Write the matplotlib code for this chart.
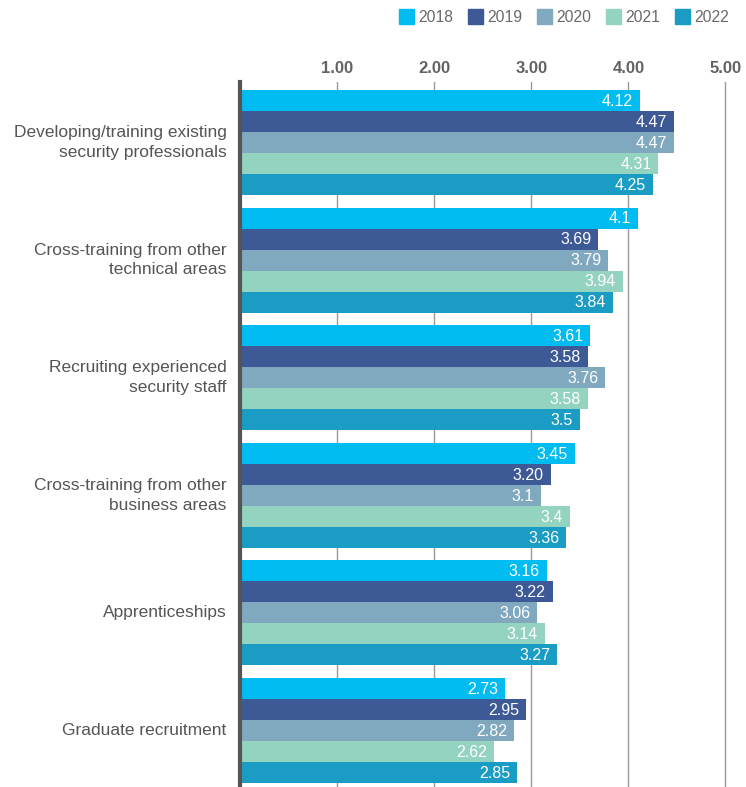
import matplotlib
matplotlib.use("Agg")
import matplotlib.pyplot as plt
from matplotlib.patches import Rectangle

plt.rcParams['font.family'] = ['Liberation Sans', 'DejaVu Sans']

categories = [
    "Developing/training existing\nsecurity professionals",
    "Cross-training from other\ntechnical areas",
    "Recruiting experienced\nsecurity staff",
    "Cross-training from other\nbusiness areas",
    "Apprenticeships",
    "Graduate recruitment",
]
years = ["2018", "2019", "2020", "2021", "2022"]
values = {
    "2018": [4.12, 4.10, 3.61, 3.45, 3.16, 2.73],
    "2019": [4.47, 3.69, 3.58, 3.20, 3.22, 2.95],
    "2020": [4.47, 3.79, 3.76, 3.10, 3.06, 2.82],
    "2021": [4.31, 3.94, 3.58, 3.40, 3.14, 2.62],
    "2022": [4.25, 3.84, 3.50, 3.36, 3.27, 2.85],
}
value_labels = {
    "2018": ["4.12", "4.1", "3.61", "3.45", "3.16", "2.73"],
    "2019": ["4.47", "3.69", "3.58", "3.20", "3.22", "2.95"],
    "2020": ["4.47", "3.79", "3.76", "3.1", "3.06", "2.82"],
    "2021": ["4.31", "3.94", "3.58", "3.4", "3.14", "2.62"],
    "2022": ["4.25", "3.84", "3.5", "3.36", "3.27", "2.85"],
}
x_ticks = [1, 2, 3, 4, 5]
x_ticklabels = ["1.00", "2.00", "3.00", "4.00", "5.00"]
colors = ["#00BCF1", "#3D5A96", "#80A9C0", "#94D3BF", "#1A9CC4"]

W, H = 746, 787
fig = plt.figure(figsize=(W / 100, H / 100), dpi=100)
ax = fig.add_axes([240 / W, 0, 500 / W, 705 / H])

group_pitch = 5.6
n_years = len(years)
for j, (yr, col) in enumerate(zip(years, colors)):
    ys = [g * group_pitch + j for g in range(len(categories))]
    ax.barh(ys, values[yr], height=1.0, color=col, zorder=2)
    for y, v, lab in zip(ys, values[yr], value_labels[yr]):
        ax.text(v - 0.07, y + 0.04, lab, ha="right", va="center",
                color="white", fontsize=11.5, zorder=3)

ax.set_xlim(0, 5.15)
last = (len(categories) - 1) * group_pitch + n_years - 1
ax.set_ylim(last + 0.5 + 4 / 21, -0.5 - 8 / 21)

ax.set_xticks(x_ticks)
ax.set_xticklabels(x_ticklabels, fontsize=12, fontweight="bold", color="#626262")
ax.xaxis.tick_top()
ax.tick_params(axis="x", length=0, pad=4.5)
ax.set_yticks([])
ax.grid(axis="x", color="#9a9a9a", linewidth=1.0, zorder=0)

for s in ["top", "right", "bottom"]:
    ax.spines[s].set_visible(False)
ax.spines["left"].set_color("#555555")
ax.spines["left"].set_linewidth(3)
ax.spines["left"].set_zorder(4)

for g, cat in enumerate(categories):
    yc = g * group_pitch + (n_years - 1) / 2
    ax.text(-0.14, yc, cat, ha="right", va="center", fontsize=12.5,
            color="#555555", linespacing=1.4, transform=ax.transData)

# legend row across the top right
for k, (yr, col) in enumerate(zip(years, colors)):
    x0 = 399 + k * 69
    fig.patches.append(Rectangle((x0 / W, 1 - 24 / H), 15 / W, 15 / H,
                                 transform=fig.transFigure, color=col))
    fig.text((x0 + 19) / W, 1 - 17 / H, yr, ha="left", va="center",
             fontsize=11.3, color="#6a6a6a")

fig.savefig("out.png", dpi=100)
